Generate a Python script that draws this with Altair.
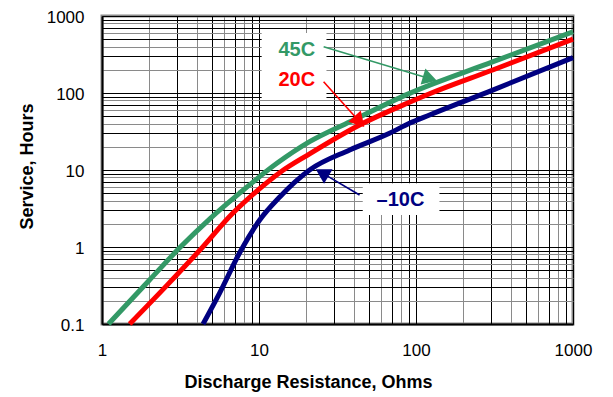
import altair as alt
import pandas as pd

# ---- curve data (resistance in ohms, service in hours) ----
r45 = [1.1, 2.0, 3.1, 4.9, 7.5, 13, 21, 38, 91, 310, 1000]
h45 = [0.1, 0.37, 0.96, 2.36, 4.98, 12.2, 23.3, 42.4, 99, 255, 625]
r20 = [1.5, 2.6, 4.2, 6.8, 9.6, 13.6, 21, 43.7, 91, 122, 308, 1000]
h20 = [0.1, 0.32, 0.91, 2.74, 5.25, 9.3, 16.2, 38.4, 75.9, 97.7, 199, 500]
rm10 = [4.4, 5.6, 7.5, 10.1, 13.6, 21, 37.8, 67.8, 90.8, 122, 308, 1000]
hm10 = [0.1, 0.25, 0.83, 2.24, 4.5, 10, 18.2, 30, 40.4, 51.8, 109, 288]

series_names = ["45C", "20C", "–10C"]
series_colors = ["#339966", "#ff0000", "#000080"]
label_colors = ["#008000", "#ff0000", "#000080"]

# annotation positions (data coordinates)
label_r = [17.4, 17.4, 79.6]
label_h = [361, 147.6, 4.07]
arrow_r0 = [25.8, 25.8, 43.7]
arrow_h0 = [399, 140, 4.73]
arrow_r1 = [118.6, 42.6, 26.0]
arrow_h1 = [156.7, 44.9, 8.85]
arrow_angle = [106.7, 138.0, 300.6]
box_r0 = [10.4, 45.8]
box_r1 = [26.9, 141]
box_h0 = [81, 2.6]
box_h1 = [601, 6.71]

x_ticks = [m * 10 ** e for e in range(0, 3) for m in range(1, 10)] + [1000]
y_ticks = [round(m * 10.0 ** e, 6) for e in range(-1, 3) for m in range(1, 10)] + [1000]

rows = []
for name, rs, hs in zip(series_names, [r45, r20, rm10], [h45, h20, hm10]):
    for i, (r, h) in enumerate(zip(rs, hs)):
        rows.append({"series": name, "R": r, "H": h, "order": i})
curves = pd.DataFrame(rows)

arrows = pd.DataFrame({
    "series": series_names, "r0": arrow_r0, "h0": arrow_h0,
    "r1": arrow_r1, "h1": arrow_h1, "angle": arrow_angle,
    "lr": label_r, "lh": label_h,
})
boxes = pd.DataFrame({"r0": box_r0, "r1": box_r1, "h0": box_h0, "h1": box_h1})

even_test = ("floor(datum.value / pow(10, floor(log(datum.value)/LN10 + 1e-9)) + 0.5) % 2 == 0")
major_x = "(datum.value == 1 || datum.value == 10 || datum.value == 100 || datum.value == 1000) ? '' + datum.value : ''"
major_y = "(datum.value == 0.1 || datum.value == 1 || datum.value == 10 || datum.value == 100 || datum.value == 1000) ? '' + datum.value : ''"

xscale = alt.Scale(type="log", domain=[1, 1000], nice=False)
yscale = alt.Scale(type="log", domain=[0.1, 1000], nice=False)

xaxis = alt.Axis(
    values=x_ticks, labelExpr=major_x, title="Discharge Resistance, Ohms",
    grid=True, gridColor={"condition": {"test": even_test, "value": "#8a8a8a"}, "value": "#000000"},
    gridWidth=1, ticks=False, labelPadding=18, labelFontSize=17, labelFont="Liberation Sans",
    labelColor="#000", labelFlush=False, labelOverlap=False,
    titleFontSize=18, titleFont="Liberation Sans", titleFontWeight="bold", titleColor="#000",
    titleX=206, titleY=58, titleBaseline="middle", titleAlign="center",
    domainColor="#000", domainWidth=2,
)
yaxis = alt.Axis(
    values=y_ticks, labelExpr=major_y, title="Service, Hours",
    grid=True, gridColor={"condition": {"test": even_test, "value": "#8a8a8a"}, "value": "#000000"},
    gridWidth=1, ticks=False, labelPadding=18, labelFontSize=17, labelFont="Liberation Sans",
    labelColor="#000", labelFlush=False, labelOverlap=False, labelBaseline="middle", labelOffset=1,
    titleFontSize=18, titleFont="Liberation Sans", titleFontWeight="bold", titleColor="#000",
    titleX=-75, titleY=150, titleBaseline="middle", titleAlign="center", titleAngle=270,
    domainColor="#000", domainWidth=2,
)

color_scale = alt.Scale(domain=series_names, range=series_colors)
label_scale = alt.Scale(domain=series_names, range=label_colors)

box_layer = alt.Chart(boxes).mark_rect(color="white").encode(
    x=alt.X("r0:Q", scale=xscale, axis=xaxis), x2="r1:Q",
    y=alt.Y("h0:Q", scale=yscale, axis=yaxis), y2="h1:Q",
)

curve_layer = alt.Chart(curves).mark_line(strokeWidth=5, interpolate="monotone").encode(
    x=alt.X("R:Q", scale=xscale),
    y=alt.Y("H:Q", scale=yscale),
    color=alt.Color("series:N", scale=color_scale, legend=None),
    order="order:Q",
    detail="series:N",
)

arrow_line = alt.Chart(arrows).mark_rule(strokeWidth=1.6).encode(
    x=alt.X("r0:Q", scale=xscale), x2="r1:Q",
    y=alt.Y("h0:Q", scale=yscale), y2="h1:Q",
    color=alt.Color("series:N", scale=label_scale, legend=None),
)
arrow_head = alt.Chart(arrows).mark_point(shape="triangle", size=280, filled=True, opacity=1).encode(
    x=alt.X("r1:Q", scale=xscale),
    y=alt.Y("h1:Q", scale=yscale),
    angle=alt.Angle("angle:Q", scale=None),
    color=alt.Color("series:N", scale=label_scale, legend=None),
)
text_layer = alt.Chart(arrows).mark_text(
    font="Liberation Sans", fontSize=20, fontWeight="bold", baseline="middle", align="center"
).encode(
    x=alt.X("lr:Q", scale=xscale),
    y=alt.Y("lh:Q", scale=yscale),
    text="series:N",
    color=alt.Color("series:N", scale=label_scale, legend=None),
)

chart = alt.layer(box_layer, curve_layer, arrow_line, arrow_head, text_layer).properties(
    width=471, height=308,
    autosize=alt.AutoSizeParams(type="none"),
    padding={"left": 94, "top": 8, "right": 32, "bottom": 73},
    background="white",
).configure_view(stroke="#8a8a8a", strokeWidth=3)

chart.save("out.html", embed_options={"renderer": "svg", "actions": False})
